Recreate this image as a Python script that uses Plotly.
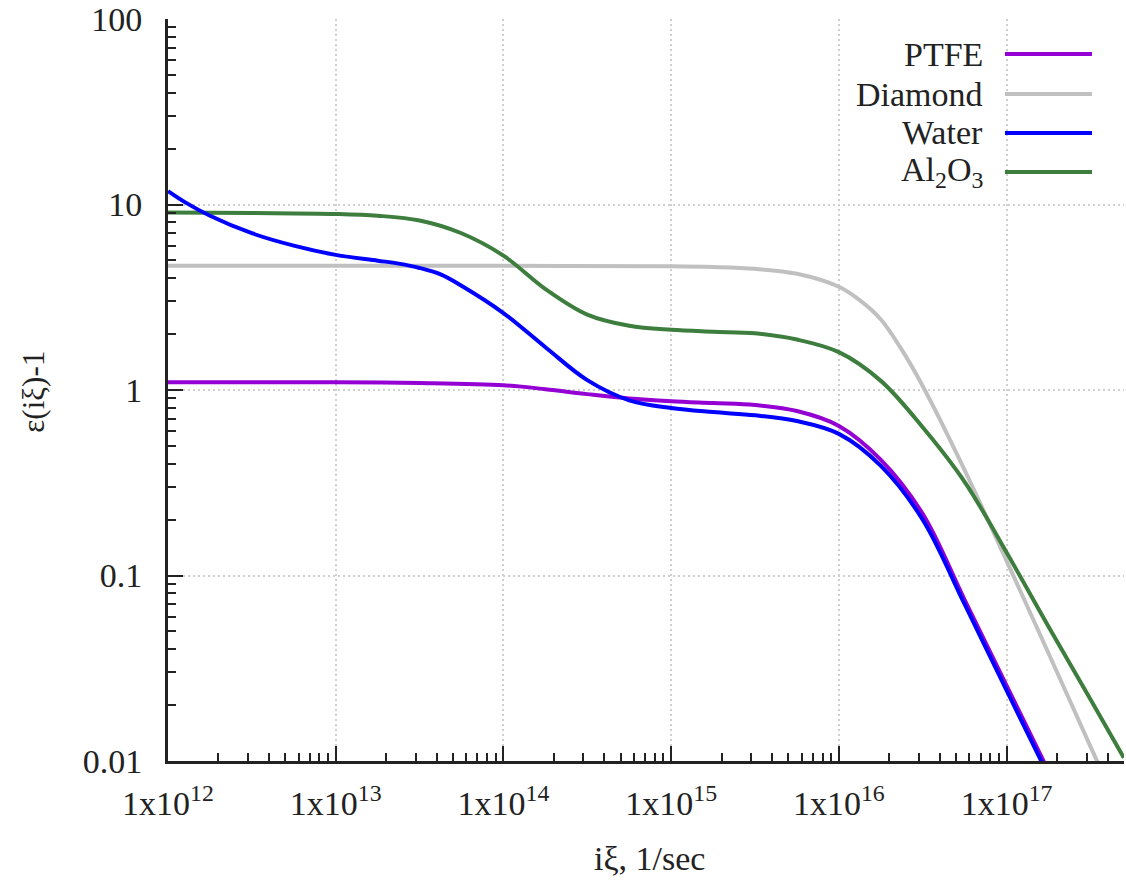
import plotly.graph_objects as go

# Frequencies (imaginary frequency i*xi, 1/sec) and epsilon(i*xi)-1 for each material
ptfe_xi = [1.0e12, 3.16e12, 1.0e13, 3.16e13, 1.0e14, 1.78e14, 3.16e14, 5.62e14,
           1.0e15, 1.78e15, 3.16e15, 5.62e15, 1.0e16, 1.78e16, 3.16e16, 5.62e16,
           1.0e17, 1.78e17]
ptfe_eps = [1.10, 1.10, 1.10, 1.09, 1.06, 1.01, 0.95, 0.90,
            0.87, 0.85, 0.83, 0.77, 0.64, 0.42, 0.215, 0.074,
            0.0255, 0.0088]

diamond_xi = [1.0e12, 1.0e13, 1.0e14, 1.0e15, 1.78e15, 3.16e15, 5.62e15,
              1.0e16, 1.33e16, 1.78e16, 2.37e16, 3.16e16, 5.62e16, 1.0e17,
              1.78e17, 3.16e17, 5.62e17]
diamond_eps = [4.67, 4.67, 4.67, 4.64, 4.60, 4.50, 4.23,
               3.60, 3.05, 2.40, 1.65, 1.05, 0.37, 0.12,
               0.038, 0.012, 0.0038]

water_xi = [1.0e12, 1.26e12, 1.78e12, 3.16e12, 5.62e12, 1.0e13, 1.78e13, 2.37e13,
            3.16e13, 4.22e13, 5.62e13, 1.0e14, 1.78e14, 3.16e14, 5.62e14, 1.0e15,
            1.78e15, 3.16e15, 5.62e15, 1.0e16, 1.78e16, 3.16e16, 5.62e16, 1.0e17,
            1.78e17]
water_eps = [11.8, 10.3, 8.7, 7.0, 6.0, 5.35, 4.98, 4.80,
             4.55, 4.20, 3.65, 2.60, 1.70, 1.13, 0.88, 0.80,
             0.76, 0.73, 0.68, 0.58, 0.39, 0.20, 0.070, 0.024,
             0.0083]

al2o3_xi = [1.0e12, 3.16e12, 1.0e13, 1.78e13, 3.16e13, 5.62e13, 1.0e14, 1.78e14,
            3.16e14, 5.62e14, 1.0e15, 1.78e15, 3.16e15, 5.62e15, 1.0e16, 1.78e16,
            3.16e16, 5.62e16, 1.0e17, 1.78e17, 3.16e17, 5.0e17]
al2o3_eps = [9.05, 9.00, 8.90, 8.70, 8.20, 7.00, 5.30, 3.50,
             2.55, 2.22, 2.11, 2.06, 2.02, 1.87, 1.60, 1.12,
             0.63, 0.32, 0.133, 0.053, 0.0215, 0.0104]

x_tickvals = [1e12, 1e13, 1e14, 1e15, 1e16, 1e17]
x_ticktext = ["1x10<sup>12</sup>", "1x10<sup>13</sup>", "1x10<sup>14</sup>",
              "1x10<sup>15</sup>", "1x10<sup>16</sup>", "1x10<sup>17</sup>"]
y_tickvals = [0.01, 0.1, 1, 10, 100]
y_ticktext = ["0.01", "0.1", "1", "10", "100"]

series = [
    ("PTFE", ptfe_xi, ptfe_eps, "#9400D3"),
    ("Diamond", diamond_xi, diamond_eps, "#C0C0C0"),
    ("Water", water_xi, water_eps, "#0000FF"),
    ("Al<sub>2</sub>O<sub>3</sub>", al2o3_xi, al2o3_eps, "#3D7D3D"),
]

FONT = "Liberation Serif"
TXT = "#222222"
FS = 34

fig = go.Figure()
# Draw order: later traces on top
draw_order = [1, 3, 0, 2]
for i in draw_order:
    name, xs, ys, col = series[i]
    fig.add_trace(go.Scatter(x=xs, y=ys, mode="lines", name=name,
                             line=dict(color=col, width=4, shape="spline", smoothing=1.0),
                             showlegend=False, hoverinfo="skip"))

# Key, gnuplot style: right-aligned text followed by a line sample
key_rows = [0.9528, 0.8989, 0.8464, 0.7938]
for (name, xs, ys, col), yk in zip(series, key_rows):
    fig.add_annotation(x=0.8546, y=yk, xref="paper", yref="paper", text=name,
                       showarrow=False, xanchor="right", yanchor="middle",
                       font=dict(family=FONT, size=FS, color=TXT))
    fig.add_shape(type="line", xref="paper", yref="paper",
                  x0=0.8755, x1=0.9665, y0=yk, y1=yk,
                  line=dict(color=col, width=4))

axis_common = dict(
    type="log",
    showline=True, linecolor="#222222", linewidth=3,
    ticks="inside", ticklen=15, tickwidth=2, tickcolor="#222222",
    showgrid=True, gridcolor="#D0D0D0", gridwidth=1.5, griddash="2px,3px",
    zeroline=False, mirror=False,
    tickfont=dict(family=FONT, size=FS, color=TXT),
    minor=dict(ticks="inside", ticklen=8, tickwidth=2, tickcolor="#222222",
               dtick="D1", showgrid=False),
)

fig.update_xaxes(**axis_common, range=[12, 17.7], tickmode="array",
                 tickvals=x_tickvals, ticktext=x_ticktext, ticklabelstandoff=10)
fig.update_yaxes(**axis_common, range=[-2, 2], tickmode="array",
                 tickvals=y_tickvals, ticktext=y_ticktext, ticklabelstandoff=16)

fig.add_annotation(x=0.504, y=-0.131, xref="paper", yref="paper", text="iξ, 1/sec",
                   showarrow=False, xanchor="center", yanchor="middle",
                   font=dict(family=FONT, size=FS, color=TXT))
fig.add_annotation(x=-0.141, y=0.498, xref="paper", yref="paper", text="ε(iξ)-1",
                   showarrow=False, xanchor="center", yanchor="middle", textangle=-90,
                   font=dict(family=FONT, size=31, color=TXT))

fig.update_layout(
    width=1126, height=880,
    margin=dict(l=168, r=2, t=19, b=119),
    paper_bgcolor="white", plot_bgcolor="white",
    showlegend=False,
)

fig.write_html("out.html")
